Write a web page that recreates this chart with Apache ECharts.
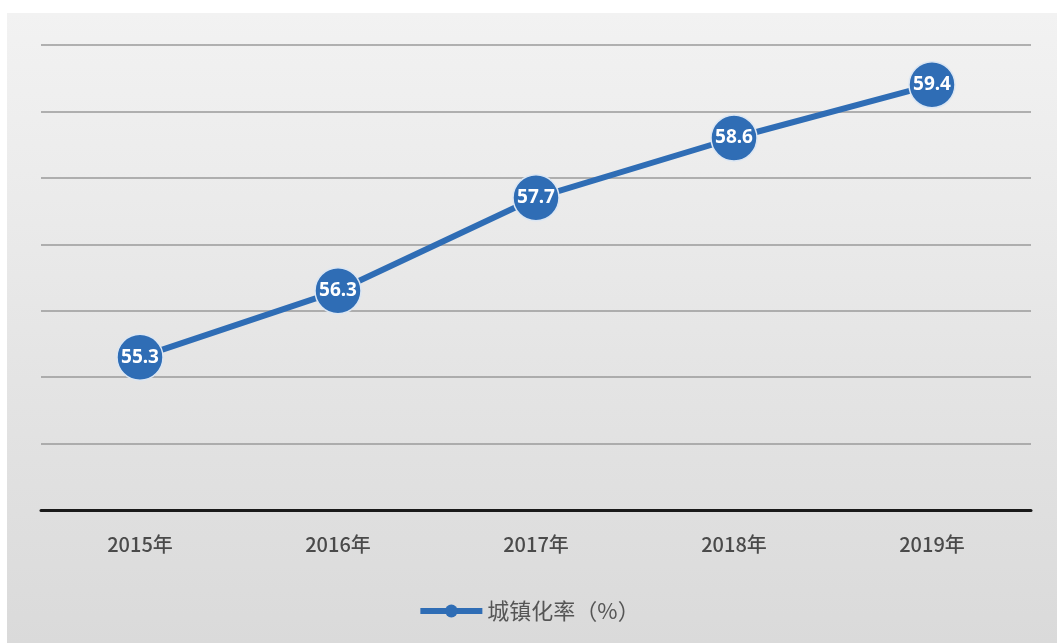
<!DOCTYPE html>
<html>
<head>
<meta charset="utf-8">
<script src="https://cdn.jsdelivr.net/npm/echarts@6/dist/echarts.min.js"></script>
<style>
html,body{margin:0;padding:0;background:#ffffff;}
#c{width:1057px;height:643px;}
</style>
</head>
<body>
<div id="c"></div>
<script>
const categories = ['2015年', '2016年', '2017年', '2018年', '2019年'];
const urbanRate = [55.3, 56.3, 57.7, 58.6, 59.4];
const seriesName = '城镇化率（%）';
const yMin = 53, yMax = 60, yStep = 1;

const chart = echarts.init(document.getElementById('c'));
chart.setOption({
  animation: false,
  graphic: [{
    type: 'rect', z: -10, silent: true,
    shape: { x: 7, y: 13, width: 1050, height: 630 },
    style: {
      fill: new echarts.graphic.LinearGradient(0, 0, 0, 1, [
        { offset: 0, color: '#f2f2f2' },
        { offset: 0.5, color: '#e6e6e6' },
        { offset: 1, color: '#dadada' }
      ])
    }
  }],
  grid: { left: 41, right: 26, top: 45, bottom: 133, containLabel: false },
  xAxis: {
    type: 'category',
    data: categories,
    boundaryGap: true,
    axisLine: { lineStyle: { color: '#1a1a1a', width: 3 } },
    axisTick: { show: false },
    axisLabel: { color: '#4a4a4a', fontSize: 20, fontWeight: 500, margin: 24, fontFamily: 'Noto Sans CJK SC, sans-serif' }
  },
  yAxis: {
    type: 'value',
    min: yMin, max: yMax, interval: yStep,
    axisLine: { show: false },
    axisTick: { show: false },
    axisLabel: { show: false },
    splitLine: { lineStyle: { color: '#9a9a9a', width: 1.5 } }
  },
  legend: {
    bottom: 16,
    left: 'center',
    itemWidth: 62,
    itemHeight: 16,
    itemGap: 10,
    lineStyle: { width: 6 },
    itemStyle: { borderWidth: 0 },
    textStyle: { color: '#555555', fontSize: 22, fontFamily: 'Noto Sans CJK SC, sans-serif' },
    data: [seriesName]
  },
  series: [{
    name: seriesName,
    type: 'line',
    data: urbanRate,
    symbol: 'circle',
    symbolSize: 46,
    lineStyle: { color: '#2f6db5', width: 6 },
    itemStyle: { color: '#2f6db5', borderColor: '#dbe6f3', borderWidth: 1.5 },
    label: {
      show: true, position: 'inside',
      color: '#ffffff', fontSize: 19, fontWeight: 'bold',
      fontFamily: 'Noto Sans, sans-serif'
    }
  }]
});
</script>
</body>
</html>
